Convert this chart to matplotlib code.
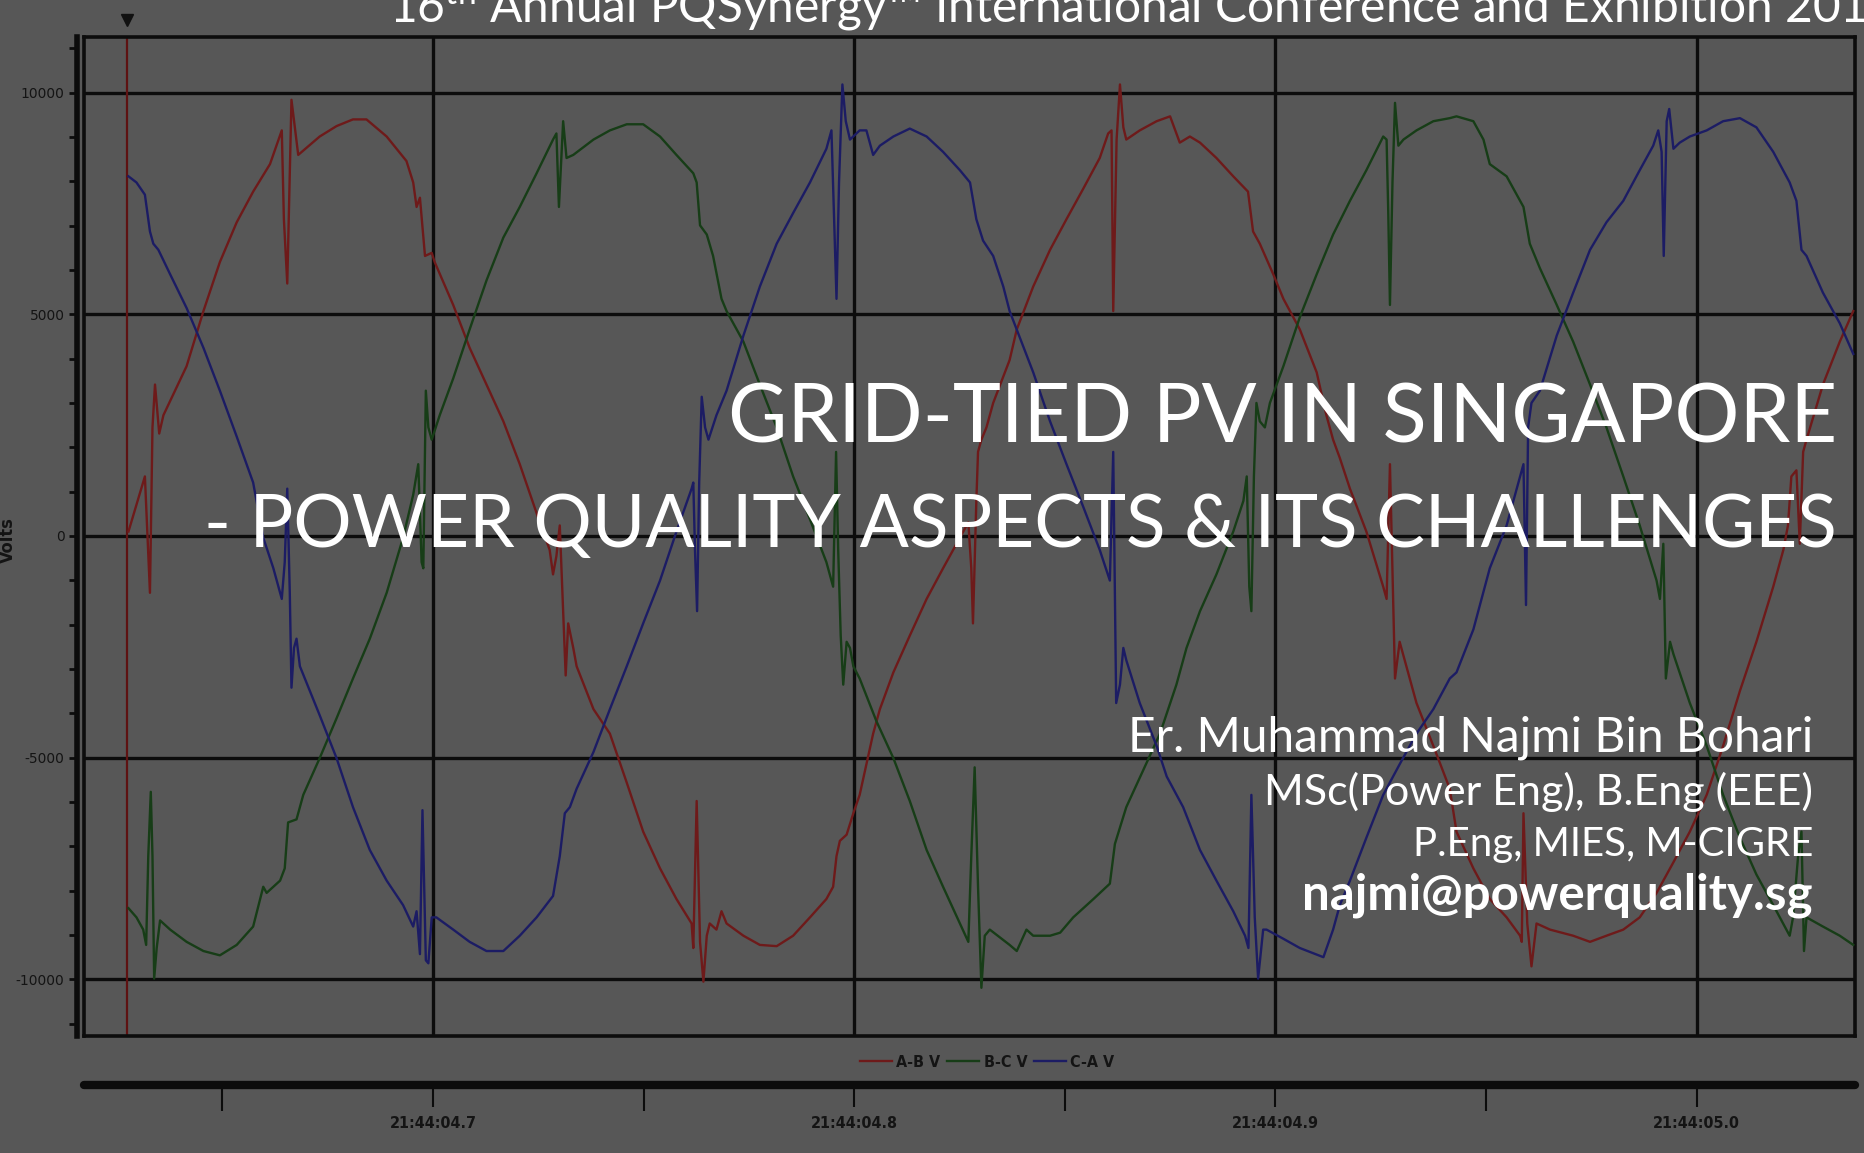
import matplotlib
matplotlib.use("Agg")
import matplotlib.pyplot as plt
import matplotlib.transforms as mtransforms
from matplotlib import font_manager
from matplotlib.font_manager import FontProperties
from matplotlib.ticker import MultipleLocator, FixedLocator

# waveform capture, time in seconds after 21:44:04
ab_t = [0.6277, 0.6316, 0.6328, 0.6334, 0.6340, 0.6350, 0.6360, 0.6415, 0.6455, 0.6494,
        0.6534, 0.6573, 0.6613, 0.6641, 0.6646, 0.6654, 0.6664, 0.6672, 0.6680, 0.6731,
        0.6771, 0.6810, 0.6842, 0.6890, 0.6937, 0.6953, 0.6961, 0.6969, 0.6981, 0.6997,
        0.7004, 0.7048, 0.7087, 0.7127, 0.7167, 0.7206, 0.7246, 0.7277, 0.7285, 0.7293,
        0.7301, 0.7309, 0.7315, 0.7321, 0.7333, 0.7341, 0.7381, 0.7420, 0.7460, 0.7499,
        0.7539, 0.7578, 0.7614, 0.7618, 0.7626, 0.7634, 0.7642, 0.7650, 0.7657, 0.7673,
        0.7685, 0.7697, 0.7737, 0.7776, 0.7816, 0.7855, 0.7895, 0.7934, 0.7950, 0.7958,
        0.7966, 0.7982, 0.7998, 0.8013, 0.8029, 0.8045, 0.8061, 0.8093, 0.8132, 0.8172,
        0.8211, 0.8251, 0.8271, 0.8278, 0.8282, 0.8290, 0.8294, 0.8302, 0.8314, 0.8330,
        0.8369, 0.8386, 0.8425, 0.8465, 0.8504, 0.8544, 0.8583, 0.8603, 0.8611, 0.8615,
        0.8623, 0.8631, 0.8639, 0.8646, 0.8678, 0.8718, 0.8750, 0.8773, 0.8797, 0.8821,
        0.8860, 0.8900, 0.8935, 0.8947, 0.8963, 0.8995, 0.9019, 0.9058, 0.9098, 0.9121,
        0.9137, 0.9153, 0.9177, 0.9216, 0.9256, 0.9264, 0.9272, 0.9284, 0.9295, 0.9311,
        0.9335, 0.9375, 0.9414, 0.9430, 0.9470, 0.9509, 0.9549, 0.9581, 0.9585, 0.9589,
        0.9598, 0.9608, 0.9620, 0.9652, 0.9707, 0.9747, 0.9786, 0.9826, 0.9865, 0.9905,
        0.9945, 0.9984, 1.0024, 1.0063, 1.0103, 1.0142, 1.0182, 1.0206, 1.0217, 1.0225,
        1.0237, 1.0245, 1.0253, 1.0261, 1.0300, 1.0340, 1.0372]
ab_v = [100, 1343, -1281, 2448, 3415, 2310, 2724, 3829, 5072, 6177,
        7074, 7765, 8386, 9146, 7143, 5693, 9836, 9215, 8593, 9008,
        9243, 9394, 9394, 9008, 8455, 7972, 7420, 7627, 6315, 6384,
        6177, 5210, 4243, 3415, 2586, 1620, 515, -314, -866, -452,
        238, -1695, -3145, -1971, -2524, -2938, -3905, -4457, -5562, -6667,
        -7495, -8186, -8738, -9291, -5976, -9152, -10050, -9014, -8738, -8876,
        -8462, -8738, -9014, -9221, -9249, -9014, -8600, -8186, -7910, -7219,
        -6874, -6736, -6252, -5838, -5148, -4457, -3905, -3076, -2247, -1419,
        -728, -38, 308, -728, -1971, 791, 1896, 2172, 2448, 3000,
        3967, 4658, 5624, 6453, 7143, 7834, 8524, 9077, 9146, 5072,
        8939, 10182, 9215, 8939, 9146, 9353, 9463, 8870, 9008, 8870,
        8524, 8110, 7765, 6867, 6591, 5900, 5348, 4658, 3691, 2724,
        2172, 1758, 1067, 100, -1143, -1419, 1619, -3214, -2386, -2938,
        -3767, -4733, -5700, -6667, -7495, -8186, -8600, -9014, -9152, -6252,
        -8738, -9705, -8738, -8876, -9014, -9152, -9014, -8876, -8600, -8048,
        -7357, -6667, -5838, -4733, -3490, -2386, -1143, -314, 238, 1343,
        1481, -176, 1896, 2172, 3415, 4382, 5072]

bc_t = [0.6277, 0.6296, 0.6312, 0.6319, 0.6324, 0.6330, 0.6334, 0.6338, 0.6344, 0.6352,
        0.6376, 0.6415, 0.6455, 0.6494, 0.6534, 0.6573, 0.6597, 0.6605, 0.6637, 0.6648,
        0.6656, 0.6676, 0.6692, 0.6731, 0.6771, 0.6810, 0.6850, 0.6890, 0.6929, 0.6953,
        0.6965, 0.6973, 0.6977, 0.6983, 0.6989, 0.6997, 0.7016, 0.7048, 0.7087, 0.7127,
        0.7167, 0.7206, 0.7246, 0.7285, 0.7293, 0.7299, 0.7309, 0.7317, 0.7333, 0.7381,
        0.7420, 0.7460, 0.7499, 0.7539, 0.7578, 0.7618, 0.7626, 0.7634, 0.7650, 0.7665,
        0.7685, 0.7697, 0.7737, 0.7776, 0.7816, 0.7855, 0.7895, 0.7934, 0.7950, 0.7957,
        0.7962, 0.7968, 0.7974, 0.7982, 0.7990, 0.7998, 0.8013, 0.8053, 0.8093, 0.8132,
        0.8172, 0.8211, 0.8251, 0.8271, 0.8278, 0.8286, 0.8294, 0.8302, 0.8310, 0.8322,
        0.8369, 0.8386, 0.8409, 0.8425, 0.8465, 0.8489, 0.8520, 0.8568, 0.8607, 0.8619,
        0.8646, 0.8686, 0.8726, 0.8765, 0.8789, 0.8821, 0.8860, 0.8900, 0.8924, 0.8932,
        0.8938, 0.8943, 0.8949, 0.8955, 0.8963, 0.8975, 0.8987, 0.9019, 0.9058, 0.9098,
        0.9137, 0.9177, 0.9216, 0.9256, 0.9264, 0.9268, 0.9272, 0.9278, 0.9284, 0.9292,
        0.9304, 0.9335, 0.9375, 0.9414, 0.9430, 0.9470, 0.9494, 0.9509, 0.9549, 0.9589,
        0.9604, 0.9628, 0.9668, 0.9707, 0.9747, 0.9786, 0.9826, 0.9865, 0.9905, 0.9913,
        0.9921, 0.9927, 0.9937, 0.9945, 0.9984, 1.0024, 1.0063, 1.0103, 1.0142, 1.0182,
        1.0221, 1.0229, 1.0241, 1.0249, 1.0255, 1.0261, 1.0300, 1.0340, 1.0372]
bc_v = [-8393, -8600, -8876, -9221, -7219, -5769, -7219, -9981, -9291, -8669,
        -8876, -9152, -9359, -9456, -9221, -8807, -7910, -8048, -7771, -7495,
        -6459, -6390, -5838, -5009, -4112, -3214, -2316, -1281, -38, 929,
        1619, -590, -728, 3277, 2448, 2172, 2724, 3553, 4658, 5762,
        6729, 7420, 8179, 8939, 9077, 7420, 9353, 8524, 8593, 8939,
        9146, 9284, 9284, 9008, 8593, 8179, 7972, 7005, 6798, 6315,
        5348, 5072, 4381, 3415, 2448, 1343, 377, -590, -1143, 1896,
        -314, -2247, -3352, -2386, -2524, -2938, -3214, -4181, -5009, -5976,
        -7081, -7910, -8738, -9152, -7219, -5217, -7910, -10188, -9014, -8876,
        -9221, -9359, -8876, -9014, -9014, -8945, -8600, -8186, -7840, -6943,
        -6114, -5286, -4457, -3352, -2524, -1695, -866, 100, 791, 1343,
        -1143, -1695, 1343, 3000, 2586, 2448, 3000, 3829, 4934, 5900,
        6798, 7558, 8248, 9008, 8939, 7282, 5210, 7972, 9767, 8801,
        8939, 9146, 9353, 9422, 9463, 9353, 8939, 8386, 8110, 7420,
        6591, 6039, 5210, 4381, 3415, 2448, 1343, 238, -1005, -1419,
        -176, -3214, -2386, -2662, -3767, -4733, -5838, -6805, -7633, -8324,
        -9014, -8600, -7219, -6667, -9359, -8600, -8807, -9014, -9221]

ca_t = [0.6277, 0.6296, 0.6316, 0.6328, 0.6336, 0.6348, 0.6376, 0.6415, 0.6455, 0.6494,
        0.6534, 0.6573, 0.6597, 0.6621, 0.6641, 0.6648, 0.6654, 0.6660, 0.6664, 0.6670,
        0.6676, 0.6684, 0.6731, 0.6771, 0.6810, 0.6850, 0.6890, 0.6929, 0.6953, 0.6961,
        0.6969, 0.6975, 0.6983, 0.6989, 0.6997, 0.7008, 0.7048, 0.7087, 0.7127, 0.7167,
        0.7206, 0.7246, 0.7285, 0.7301, 0.7313, 0.7325, 0.7341, 0.7381, 0.7420, 0.7460,
        0.7499, 0.7539, 0.7578, 0.7614, 0.7618, 0.7622, 0.7627, 0.7632, 0.7638, 0.7646,
        0.7654, 0.7673, 0.7697, 0.7737, 0.7776, 0.7816, 0.7855, 0.7895, 0.7934, 0.7946,
        0.7952, 0.7958, 0.7964, 0.7972, 0.7980, 0.7990, 0.8013, 0.8029, 0.8045, 0.8061,
        0.8093, 0.8132, 0.8172, 0.8211, 0.8251, 0.8275, 0.8290, 0.8306, 0.8330, 0.8354,
        0.8369, 0.8425, 0.8465, 0.8504, 0.8544, 0.8583, 0.8607, 0.8615, 0.8622, 0.8631,
        0.8639, 0.8646, 0.8678, 0.8718, 0.8742, 0.8781, 0.8821, 0.8860, 0.8900, 0.8928,
        0.8936, 0.8943, 0.8951, 0.8959, 0.8971, 0.8979, 0.9019, 0.9058, 0.9114, 0.9137,
        0.9153, 0.9177, 0.9216, 0.9256, 0.9295, 0.9335, 0.9375, 0.9414, 0.9430, 0.9470,
        0.9509, 0.9549, 0.9581, 0.9589, 0.9595, 0.9600, 0.9608, 0.9628, 0.9668, 0.9707,
        0.9747, 0.9786, 0.9826, 0.9865, 0.9897, 0.9909, 0.9917, 0.9922, 0.9929, 0.9935,
        0.9945, 0.9960, 0.9984, 1.0024, 1.0063, 1.0103, 1.0142, 1.0182, 1.0221, 1.0237,
        1.0249, 1.0261, 1.0300, 1.0340, 1.0372]
ca_v = [8110, 7972, 7696, 6867, 6591, 6453, 5900, 5141, 4243, 3277,
        2241, 1205, -38, -728, -1419, -590, 1067, -1281, -3421, -2524,
        -2316, -2938, -4043, -5009, -6114, -7081, -7771, -8324, -8807, -8462,
        -9429, -6183, -9567, -9636, -8600, -8600, -8876, -9152, -9359, -9359,
        -9014, -8600, -8117, -7219, -6252, -6114, -5700, -4871, -3905, -2938,
        -1971, -1005, 100, 1067, 1205, -314, -1695, 1205, 3139, 2448,
        2172, 2724, 3277, 4520, 5624, 6591, 7282, 7972, 8732, 9146,
        7282, 5348, 7972, 10182, 9353, 8939, 9146, 9146, 8593, 8801,
        9008, 9187, 9008, 8662, 8248, 7972, 7143, 6660, 6315, 5624,
        5072, 3691, 2586, 1620, 653, -314, -1005, 1896, -3767, -3352,
        -2524, -2800, -3767, -4733, -5424, -6114, -7081, -7771, -8462, -9014,
        -9291, -5838, -8600, -9981, -8876, -8876, -9083, -9291, -9498, -8876,
        -8324, -7771, -6805, -5838, -5148, -4457, -3905, -3214, -3076, -2109,
        -728, 238, 1343, 1619, -1557, 2448, 3000, 3277, 4520, 5486,
        6453, 7074, 7558, 8248, 8801, 9146, 8662, 6315, 9353, 9629,
        8732, 8870, 9008, 9146, 9353, 9422, 9215, 8662, 7972, 7558,
        6453, 6315, 5486, 4796, 4105]

series_names = ["A-B V", "B-C V", "C-A V"]
cursor_t = 0.6274
t_ticks = [0.7, 0.8, 0.9, 1.0]
t_minor = [0.65, 0.75, 0.85, 0.95]
t_labels = ["21:44:04.7", "21:44:04.8", "21:44:04.9", "21:44:05.0"]

title1 = "GRID-TIED PV IN SINGAPORE"
title2 = "- POWER QUALITY ASPECTS & ITS CHALLENGES"
header = r"16$^{\mathrm{th}}$ Annual PQSynergy™ International Conference and Exhibition 2016"
author = ["Er. Muhammad Najmi Bin Bohari", "MSc(Power Eng), B.Eng (EEE)",
          "P.Eng, MIES, M-CIGRE", "najmi@powerquality.sg"]

BG = "#575757"
INK = "#0c0c0c"
LABEL = "#141414"
RED, GREEN, BLUE = "#6e1a1a", "#173d17", "#1c1c64"
SLIDE_FONT = "Lato"


def chart_font(size):
    # narrow bold face for the chart labels when one is installed
    cands = []
    for f in font_manager.fontManager.ttflist:
        narrow = ("ondensed" in f.fname or "Narrow" in f.fname
                  or f.stretch in ("condensed", "semi-condensed", "extra-condensed"))
        if narrow and f.style == "normal":
            w = f.weight if isinstance(f.weight, int) else font_manager.weight_dict.get(f.weight, 400)
            cands.append((abs(w - 700), f.fname))
    if cands:
        cands.sort()
        return FontProperties(fname=cands[0][1], size=size)
    return FontProperties(family="Roboto", weight="bold", size=size)


plt.rcParams["axes.unicode_minus"] = False
plt.rcParams["mathtext.fontset"] = "custom"
plt.rcParams["mathtext.rm"] = SLIDE_FONT

fig = plt.figure(figsize=(18.64, 11.53), dpi=100, facecolor=BG)
ax = fig.add_axes([0.04506, 0.10148, 0.95011, 0.86643], facecolor=BG)
ax.set_xlim(0.61714, 1.03761)
ax.set_ylim(-11275, 11252)

lines = []
for t, v, c, n in zip([ab_t, bc_t, ca_t], [ab_v, bc_v, ca_v], [RED, GREEN, BLUE], series_names):
    lines += ax.plot(t, v, color=c, lw=1.7, label=n, zorder=3)

ax.axvline(cursor_t, color="#5e1212", lw=1.6, zorder=2)
blend = mtransforms.blended_transform_factory(ax.transData, ax.transAxes)
ax.plot([cursor_t], [1.017], marker="v", ms=9, color="#111111", transform=blend, clip_on=False)

ax.set_yticks([-10000, -5000, 0, 5000, 10000])
ax.yaxis.set_minor_locator(MultipleLocator(1000))
ax.set_xticks(t_ticks)
ax.grid(True, which="major", color=INK, lw=2.4)
ax.set_axisbelow(True)
ax.tick_params(axis="x", length=0, labelbottom=False)
ax.tick_params(axis="y", which="both", direction="out", length=6, width=2, color=INK,
               labelcolor=LABEL, pad=3)
for lab in ax.get_yticklabels():
    lab.set_fontproperties(chart_font(13))
for s in ["top", "right", "bottom"]:
    ax.spines[s].set_linewidth(2.6)
    ax.spines[s].set_color(INK)
ax.spines["left"].set_position(("outward", 5))
ax.spines["left"].set_linewidth(4)
ax.spines["left"].set_color(INK)
ax.plot([0, 0], [0, 1], transform=ax.transAxes, color=INK, lw=2.6, clip_on=False)

fig.text(0.0045, 0.5317, "Volts", rotation=90, ha="center", va="center",
         fontproperties=chart_font(13), color=LABEL)

# separate time axis under the chart
tax = fig.add_axes([0.04506, 0.05898, 0.95011, 0.0001])
tax.patch.set_visible(False)
tax.set_xlim(ax.get_xlim())
for s in ["top", "left", "right"]:
    tax.spines[s].set_visible(False)
tax.spines["bottom"].set_linewidth(6)
tax.spines["bottom"].set_color(INK)
tax.spines["bottom"].set_capstyle("round")
tax.set_yticks([])
tax.xaxis.set_major_locator(FixedLocator(t_ticks))
tax.xaxis.set_minor_locator(FixedLocator(t_minor))
tax.set_xticklabels(t_labels)
tax.tick_params(axis="x", which="major", direction="out", length=16, width=1.5, color=INK,
                labelcolor=LABEL, pad=6)
tax.tick_params(axis="x", which="minor", direction="out", length=19, width=1.5, color=INK)
for lab in tax.get_xticklabels():
    lab.set_fontproperties(chart_font(11.5))

fig.legend(lines, series_names, loc="center", bbox_to_anchor=(0.5295, 0.0789), ncol=3,
           frameon=False, handlelength=2.0, handletextpad=0.3, columnspacing=0.4,
           prop=chart_font(11.5), labelcolor=LABEL)

# slide text over the chart
fig.text(0.2087, 0.9800, header, ha="left", va="baseline", fontsize=34.5, color="white",
         family=SLIDE_FONT)
fig.text(0.9855, 0.6158, title1, ha="right", va="baseline", fontsize=58.5, color="white",
         family=SLIDE_FONT)
fig.text(0.9855, 0.5256, title2, ha="right", va="baseline", fontsize=52.5, color="white",
         family=SLIDE_FONT)
for txt, y, size, w in zip(author, [0.3478, 0.3018, 0.2576, 0.2116], [34.5, 31, 29, 35.5],
                           ["normal", "normal", "normal", "bold"]):
    fig.text(0.9726, y, txt, ha="right", va="baseline", fontsize=size, color="white",
             family=SLIDE_FONT, weight=w)

fig.savefig("out.png", dpi=100, facecolor=BG)
